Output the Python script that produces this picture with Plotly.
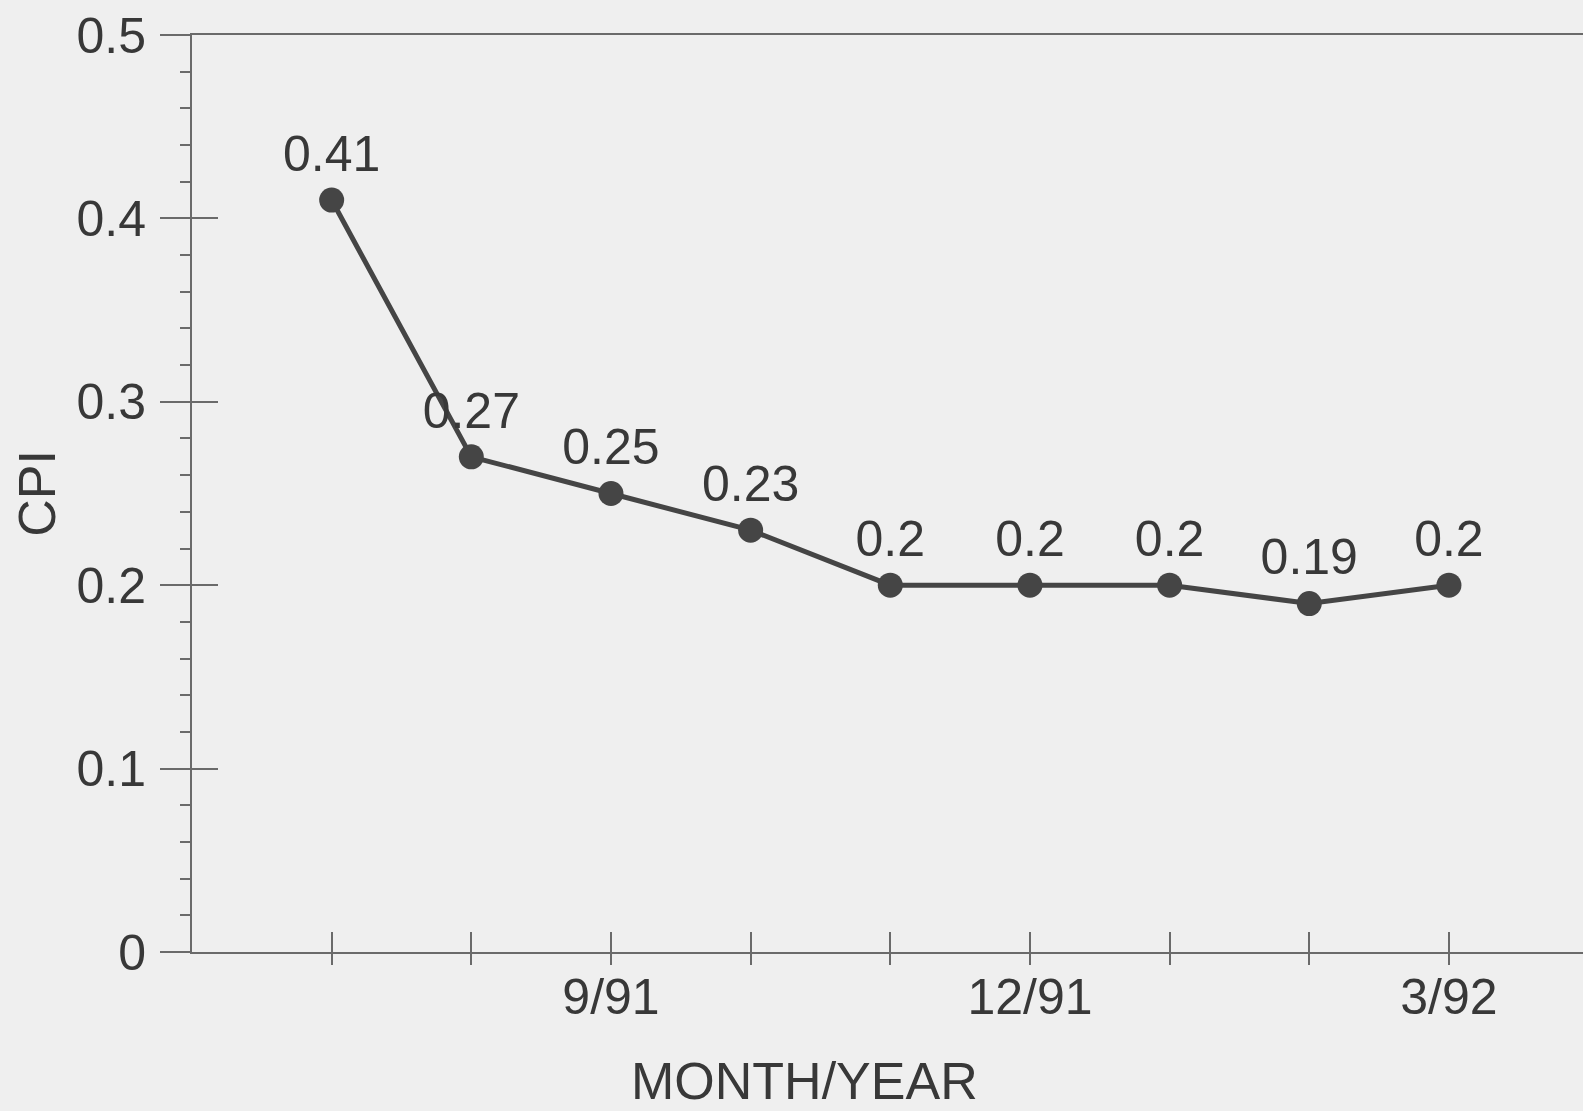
import plotly.graph_objects as go

months = ["7/91", "8/91", "9/91", "10/91", "11/91", "12/91", "1/92", "2/92", "3/92"]
cpi = [0.41, 0.27, 0.25, 0.23, 0.2, 0.2, 0.2, 0.19, 0.2]
labeled_months = ["9/91", "12/91", "3/92"]
y_ticks = [0, 0.1, 0.2, 0.3, 0.4, 0.5]

idx = list(range(len(months)))
ticktext = [m if m in labeled_months else "" for m in months]

FONT = "Liberation Sans, Arial, Helvetica, sans-serif"
TXT = "#383838"
AX = "#6a6a6a"
BG = "#efefef"

fig = go.Figure()
fig.add_trace(go.Scatter(
    x=idx, y=cpi, mode="lines+markers+text",
    text=[f"{v:g}" for v in cpi], textposition="top center",
    textfont=dict(family=FONT, size=50, color=TXT),
    line=dict(color="#454545", width=5),
    marker=dict(color="#454545", size=25),
    showlegend=False, cliponaxis=False,
))
# invisible traces to activate overlay axes (tick marks crossing the axes)
fig.add_trace(go.Scatter(x=[idx[0]], y=[cpi[0]], xaxis="x2", yaxis="y2",
                         mode="markers", marker=dict(opacity=0), showlegend=False,
                         hoverinfo="skip"))
fig.add_trace(go.Scatter(x=[idx[0]], y=[cpi[0]], xaxis="x3", yaxis="y",
                         mode="markers", marker=dict(opacity=0), showlegend=False,
                         hoverinfo="skip"))

xr = [-1, 8.96]
yr = [0, 0.5]

fig.update_layout(
    width=1583, height=1111,
    paper_bgcolor=BG, plot_bgcolor=BG,
    margin=dict(l=192, r=0, t=35, b=159),
    font=dict(family=FONT, color=TXT),
    xaxis=dict(
        range=xr, tickvals=idx, ticktext=ticktext,
        ticks="",
        showline=True, linecolor=AX, linewidth=2, mirror=True,
        showgrid=False, zeroline=False,
        tickfont=dict(family=FONT, size=50, color=TXT),
    ),
    xaxis3=dict(
        range=xr, overlaying="x", tickvals=idx, showticklabels=False,
        ticks="outside", ticklen=12, tickwidth=2, tickcolor=AX,
        showline=False, showgrid=False, zeroline=False,
    ),
    yaxis=dict(
        range=yr, tickvals=y_ticks,
        ticks="outside", ticklen=30, tickwidth=2, tickcolor=AX,
        minor=dict(ticks="outside", ticklen=10, tickwidth=2, tickcolor=AX, dtick=0.02, showgrid=False),
        showline=True, linecolor=AX, linewidth=2,
        showgrid=False, zeroline=False,
        tickfont=dict(family=FONT, size=50, color=TXT),
        ticklabelstandoff=4,
        title=dict(text="CPI", font=dict(family=FONT, size=52, color=TXT), standoff=4),
    ),
    xaxis2=dict(
        range=xr, overlaying="x", tickvals=idx, showticklabels=False,
        ticks="inside", ticklen=20, tickwidth=2, tickcolor=AX,
        showline=False, showgrid=False, zeroline=False,
    ),
    yaxis2=dict(
        range=yr, overlaying="y", tickvals=y_ticks[:-1], showticklabels=False,
        ticks="inside", ticklen=26, tickwidth=2, tickcolor=AX,
        showline=False, showgrid=False, zeroline=False,
    ),
    annotations=[dict(
        text="MONTH/YEAR", xref="paper", yref="paper",
        x=0.44, y=-0.141, xanchor="center", yanchor="middle",
        showarrow=False, font=dict(family=FONT, size=52, color=TXT),
    )],
)

fig.write_html(
    "out.html",
    config={"displayModeBar": False},
    post_script="document.body.style.margin='0';document.body.style.background='#efefef';",
)
